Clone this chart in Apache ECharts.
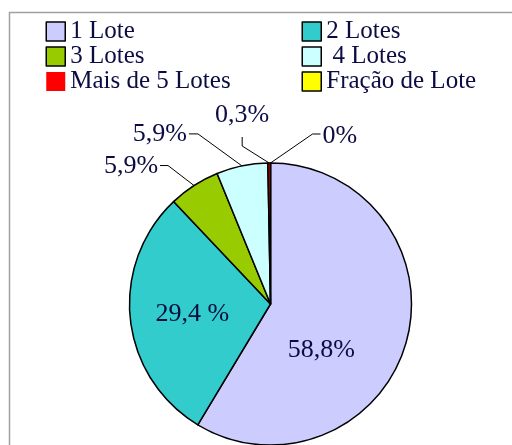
<!DOCTYPE html>
<html>
<head>
<meta charset="utf-8">
<script src="https://cdn.jsdelivr.net/npm/echarts@6/dist/echarts.min.js"></script>
<style>
  html, body { margin: 0; padding: 0; background: #fff; }
  #chart { width: 512px; height: 445px; }
</style>
</head>
<body>
<div id="chart"></div>
<script>
// data
const categories = ['1 Lote', '2 Lotes', '3 Lotes', ' 4 Lotes', 'Mais de 5 Lotes', 'Fração de Lote'];
const shares = [58.8, 29.4, 5.9, 5.9, 0.3, 0];
const shareLabels = ['58,8%', '29,4 %', '5,9%', '5,9%', '0,3%', '0%'];

// styling
const colors = ['#ccccff', '#33cccc', '#99cc00', '#ccffff', '#ff0000', '#ffff00'];
const ink = '#0c0c44';
const serif = 'Liberation Serif';

// inside labels: nudge from the default spot
const insideOffset = { 0: [-20, 27], 1: [-5, 2] };
// outside labels: leader = edge -> elbow -> tail, then the text
const leaders = {
  2: { elbow: [-26, -20], tail: [-8, 0], dx: -2, dy: 1, align: 'right' },
  3: { elbow: [-44, -32], tail: [-9, 0], dx: -2, dy: 0, align: 'right' },
  4: { elbow: [-27, -17], tail: [0, -9], dx: 0, dy: -22, align: 'center' },
  5: { elbow: [42, -29], tail: [8, 0], dx: 2, dy: 2, align: 'left' }
};

const pieData = categories.map((name, i) => {
  const inside = insideOffset[i] !== undefined;
  return {
    name,
    value: shares[i],
    itemStyle: { color: colors[i] },
    label: inside
      ? { position: 'inside', offset: insideOffset[i] }
      : { position: 'outside' },
    labelLine: { show: !inside }
  };
});

function legendData(idx) {
  return idx.map(i => ({
    name: categories[i],
    itemStyle: i === 4 ? { borderWidth: 0 } : { borderColor: '#000', borderWidth: 1.5 }
  }));
}

// legend icons come out at ~0.8 of itemWidth/itemHeight
const legendBase = {
  orient: 'vertical',
  top: 19,
  padding: 0,
  itemGap: 0,
  itemWidth: 19,
  itemHeight: 19,
  icon: 'rect',
  selectedMode: false,
  textStyle: { fontFamily: serif, fontSize: 25, color: ink, lineHeight: 24 }
};

const chart = echarts.init(document.getElementById('chart'));
chart.setOption({
  animation: false,
  color: colors,
  graphic: [{
    type: 'rect',
    shape: { x: 9.5, y: 12.5, width: 600, height: 500 },
    style: { fill: 'none', stroke: '#a0a0a0', lineWidth: 1.5 },
    silent: true
  }],
  legend: [
    Object.assign({ left: 45.5, data: legendData([0, 2, 4]) }, legendBase),
    Object.assign({ left: 301.5, data: legendData([1, 3, 5]) }, legendBase)
  ],
  series: [{
    type: 'pie',
    center: [270.5, 304],
    radius: 141,
    startAngle: 90,
    clockwise: true,
    avoidLabelOverlap: false,
    minShowLabelAngle: 0,
    itemStyle: { borderColor: '#000', borderWidth: 1.5 },
    label: {
      formatter: p => shareLabels[p.dataIndex],
      fontFamily: serif,
      fontSize: 26,
      color: ink
    },
    labelLine: { lineStyle: { color: '#000', width: 1 } },
    labelLayout: params => {
      const cfg = leaders[params.dataIndex];
      if (!cfg || !params.labelLinePoints) return {};
      const p0 = params.labelLinePoints[0];
      const p1 = [p0[0] + cfg.elbow[0], p0[1] + cfg.elbow[1]];
      const p2 = [p1[0] + cfg.tail[0], p1[1] + cfg.tail[1]];
      return {
        x: p2[0] + cfg.dx,
        y: p2[1] + cfg.dy,
        align: cfg.align,
        verticalAlign: 'middle',
        labelLinePoints: [p0, p1, p2]
      };
    },
    emphasis: { disabled: true },
    data: pieData
  }]
});
</script>
</body>
</html>
